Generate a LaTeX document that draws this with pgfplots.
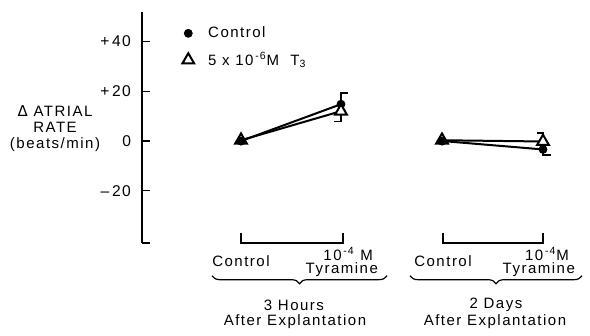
\documentclass[border=0pt]{standalone}
\usepackage{fontspec}
\setmainfont{Liberation Sans}[LetterSpace=10]
\newfontfamily\dejavu{DejaVu Sans}
\usepackage{pgfplots}
\pgfplotsset{compat=1.18}
\usetikzlibrary{decorations.pathreplacing}
\begin{document}
\begin{tikzpicture}
\begin{axis}[
  x=0.5pt, y=1.2425pt,
  xmin=142, xmax=590, ymin=-41.05, ymax=51.9,
  axis x line=none, axis y line=left,
  axis line style={-, line width=0.7pt},
  clip=false,
  ytick={-20,0,20,40},
  yticklabels={{\textendash\,20},{0},{+\,20},{+\,40}},
  tick align=inside, major tick length=4pt,
  tick style={line width=0.7pt, black},
  extra y ticks={-41.05}, extra y tick labels={},
  yticklabel style={font=\fontsize{7.8}{9}\selectfont, xshift=-2pt},
  legend style={draw=none, fill=none, at={(axis cs:176,49.5)}, anchor=north west,
    font=\fontsize{7.5}{8.5}\selectfont, row sep=1.8pt},
  legend cell align=left,
]
% connecting lines
\addplot[black, line width=1pt, forget plot] coordinates {(241,0) (341,14.8)};
\addplot[black, line width=1pt, forget plot] coordinates {(241,0.3) (341,12.0)};
\addplot[black, line width=1pt, forget plot] coordinates {(442,0) (543,-3.4)};
\addplot[black, line width=1pt, forget plot] coordinates {(442,0.3) (543,-0.2)};
% error bars (half brackets)
\addplot[black, line width=0.7pt, forget plot] coordinates {(341,14.8) (341,19.3) (348,19.3)};
\addplot[black, line width=0.7pt, forget plot] coordinates {(341,12.0) (341,7.8) (334,7.8)};
\addplot[black, line width=0.7pt, forget plot] coordinates {(543,-0.2) (543,3.2) (537,3.2)};
\addplot[black, line width=0.7pt, forget plot] coordinates {(543,-3.4) (543,-5.6) (551,-5.6)};
% points
\addplot[only marks, mark=*, mark size=2pt, black] coordinates {(241,0) (341,14.8) (442,0) (543,-3.4)};
\addlegendentry{\hspace{5pt}Control}
\addplot[only marks, mark=triangle*, mark size=3.4pt, black, line width=1pt, mark options={fill=white}] coordinates {(241,0.3) (341,12.0) (442,0.3) (543,-0.2)};
\addlegendentry{\hspace{5pt}5 x 10\textsuperscript{\,-6}M\ \ T\textsubscript{3}}
% control circles again on top where they coincide with the triangles
\addplot[only marks, mark=*, mark size=2pt, black, forget plot] coordinates {(241,0) (442,0)};

% y label
\node[align=center, font=\fontsize{7.5}{8}\selectfont] at (axis cs:55,4.8)
  {{\dejavu\char"0394} ATRIAL\\RATE\\(beats/min)};
% group brackets
\draw[line width=0.7pt] (axis cs:241,-37) -- (axis cs:241,-41.05) -- (axis cs:343,-41.05) -- (axis cs:343,-37);
\draw[line width=0.7pt] (axis cs:443,-37) -- (axis cs:443,-41.05) -- (axis cs:543,-41.05) -- (axis cs:543,-37);
% category labels
\begin{scope}[font=\fontsize{7.5}{8}\selectfont]
\node at (axis cs:241,-48.3) {Control};
\node[anchor=east] at (axis cs:380,-45.6) {10\textsuperscript{\,-4}\ M};
\node[anchor=east] at (axis cs:385,-51.9) {Tyramine};
\node at (axis cs:443,-48.3) {Control};
\node[anchor=east] at (axis cs:576,-45.6) {10\textsuperscript{\,-4}M};
\node[anchor=east] at (axis cs:582,-51.9) {Tyramine};
\node at (axis cs:294,-66.0) {3 Hours};
\node at (axis cs:295,-72.8) {After Explantation};
\node at (axis cs:496,-66.0) {2 Days};
\node at (axis cs:495,-72.8) {After Explantation};
\end{scope}
% braces
\draw[decorate, decoration={brace, amplitude=4pt}, line width=0.6pt] (axis cs:387,-54.2) -- (axis cs:212,-54.2);
\draw[decorate, decoration={brace, amplitude=4pt}, line width=0.6pt] (axis cs:582,-54.2) -- (axis cs:410,-54.2);
\coordinate (BL) at (axis cs:0,-78.47);
\coordinate (TR) at (axis cs:590,56.74);
\end{axis}
\pgfresetboundingbox
\useasboundingbox (BL) rectangle (TR);
\end{tikzpicture}
\end{document}
